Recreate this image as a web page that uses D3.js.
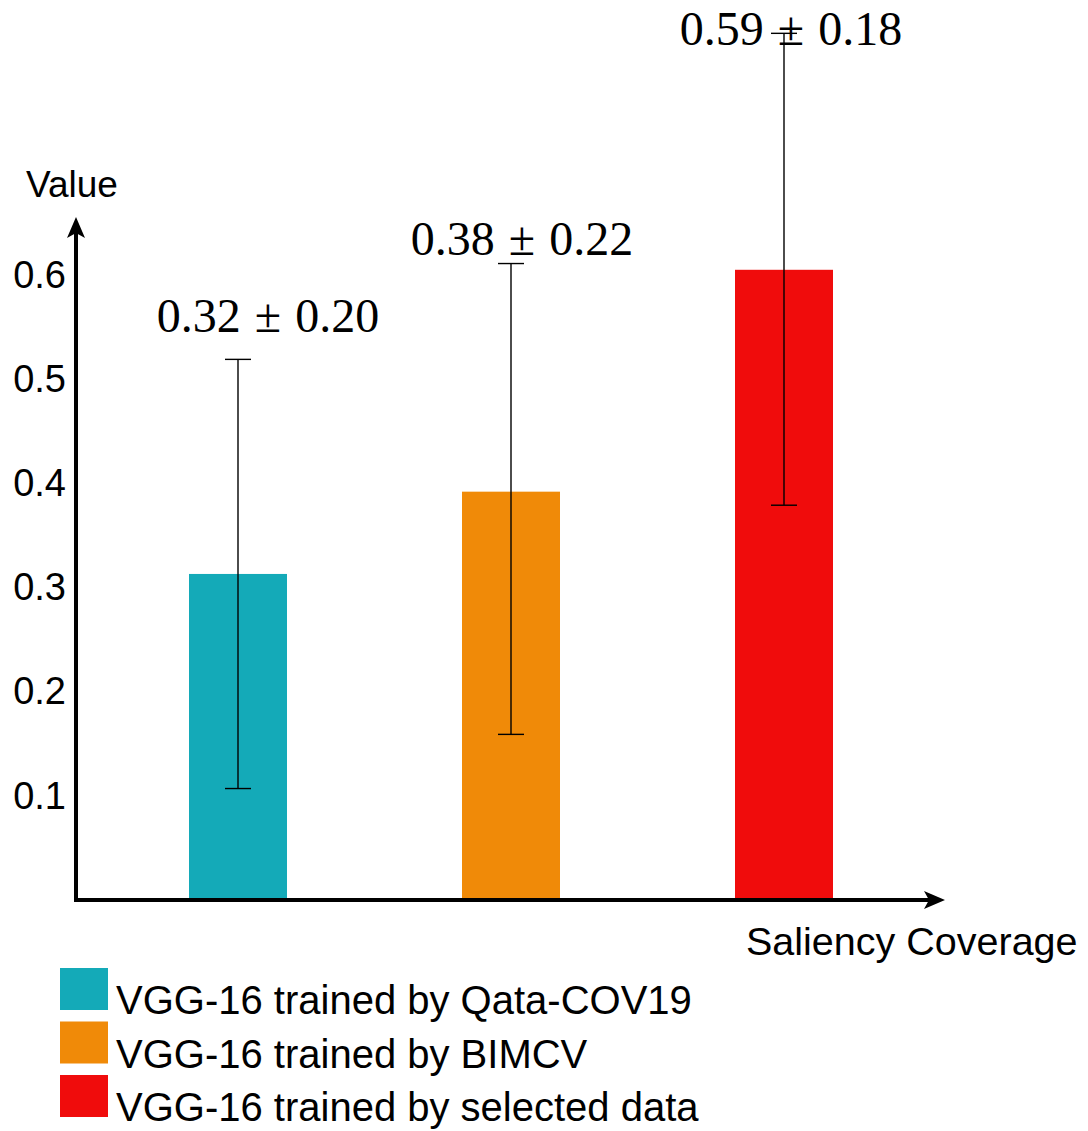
<!DOCTYPE html>
<html lang="en">
<head>
    <meta charset="UTF-8">
    <title>Saliency Coverage</title>
    <script type="text/javascript" src="https://cdn.jsdelivr.net/npm/d3@7/dist/d3.min.js"></script>
    <style>
        body { margin: 0; background: #fff; }
    </style>
</head>
<body>
<script type="text/javascript">
    const width = 1088, height = 1131;

    // data
    const models = ['VGG-16 trained by Qata-COV19', 'VGG-16 trained by BIMCV', 'VGG-16 trained by selected data'];
    const barValues = [0.313, 0.392, 0.605];
    const errLow = [0.107, 0.159, 0.379];
    const errHigh = [0.519, 0.611, 0.832];
    const means = ['0.32', '0.38', '0.59'];
    const stds = ['0.20', '0.22', '0.18'];
    const ticks = [0.1, 0.2, 0.3, 0.4, 0.5, 0.6];
    const colors = ['#14aab8', '#f08a08', '#f00c0c'];

    // hand placement of the value labels (dx, dy from the top of the error bar)
    const labelShift = [[30, -27], [11, -9], [7, 12]];

    const sans = '"Liberation Sans", Arial, Helvetica, sans-serif';

    const svg = d3.select('body').append('svg')
        .attr('width', width)
        .attr('height', height);

    const x = d3.scalePoint()
        .domain(models)
        .range([238, 784]);

    const y = d3.scaleLinear()
        .domain([0, 0.6])
        .range([900, 275]);

    const barWidth = 98;
    const axisX = 76, axisY = 900;

    // bars
    svg.append('g')
        .selectAll('rect')
        .data(models)
        .enter()
        .append('rect')
        .attr('x', d => x(d) - barWidth / 2)
        .attr('y', (d, i) => y(barValues[i]))
        .attr('width', barWidth)
        .attr('height', (d, i) => y(0) - y(barValues[i]))
        .style('fill', (d, i) => colors[i]);

    // error bars
    const err = svg.append('g')
        .selectAll('g')
        .data(models)
        .enter()
        .append('g')
        .style('stroke', '#000')
        .style('stroke-width', 1.4);
    err.append('line')
        .attr('x1', d => x(d)).attr('x2', d => x(d))
        .attr('y1', (d, i) => y(errLow[i]))
        .attr('y2', (d, i) => y(errHigh[i]));
    err.append('line')
        .attr('x1', d => x(d) - 13).attr('x2', d => x(d) + 13)
        .attr('y1', (d, i) => y(errLow[i])).attr('y2', (d, i) => y(errLow[i]));
    err.append('line')
        .attr('x1', d => x(d) - 13).attr('x2', d => x(d) + 13)
        .attr('y1', (d, i) => y(errHigh[i])).attr('y2', (d, i) => y(errHigh[i]));

    // mean ± std labels
    svg.append('g')
        .selectAll('text')
        .data(models)
        .enter()
        .append('text')
        .attr('x', (d, i) => x(d) + labelShift[i][0])
        .attr('y', (d, i) => y(errHigh[i]) + labelShift[i][1])
        .attr('text-anchor', 'middle')
        .style('font-family', '"Liberation Serif", "DejaVu Serif", serif')
        .style('font-size', '48px')
        .style('word-spacing', '2px')
        .text((d, i) => means[i] + ' ± ' + stds[i]);

    // y tick labels
    const yAxis = svg.append('g')
        .attr('transform', 'translate(' + axisX + ',0)')
        .call(d3.axisLeft(y).tickValues(ticks).tickSize(0).tickPadding(10).tickFormat(d3.format('.1f')));
    yAxis.select('.domain').remove();
    yAxis.selectAll('text')
        .style('font-family', sans)
        .style('font-size', '38px')
        .style('fill', '#000');

    // axis arrows
    const axes = svg.append('g');
    axes.append('line')
        .attr('x1', axisX).attr('x2', axisX)
        .attr('y1', axisY + 2).attr('y2', 232)
        .style('stroke', '#000').style('stroke-width', 4);
    axes.append('path')
        .attr('d', 'M' + axisX + ',217 L' + (axisX + 9) + ',238 L' + axisX + ',233 L' + (axisX - 9) + ',238 Z')
        .style('fill', '#000');
    axes.append('line')
        .attr('x1', axisX - 2).attr('x2', 930)
        .attr('y1', axisY).attr('y2', axisY)
        .style('stroke', '#000').style('stroke-width', 4);
    axes.append('path')
        .attr('d', 'M945,' + axisY + ' L924,' + (axisY - 9) + ' L929,' + axisY + ' L924,' + (axisY + 9) + ' Z')
        .style('fill', '#000');

    function sansText(sel, size, tx, ty, str) {
        sel.append('text')
            .attr('x', tx)
            .attr('y', ty)
            .style('font-family', sans)
            .style('font-size', size + 'px')
            .style('fill', '#000')
            .text(str);
    }

    // axis titles
    sansText(svg, 37, 26, 197, 'Value');
    sansText(svg, 39.5, 746, 955, 'Saliency Coverage');

    // legend
    const legend = svg.append('g')
        .selectAll('g')
        .data(models)
        .enter()
        .append('g')
        .attr('transform', (d, i) => 'translate(60,' + (968 + i * 53.5) + ')');
    legend.append('rect')
        .attr('width', 48)
        .attr('height', 42)
        .style('fill', (d, i) => colors[i]);
    legend.each(function (d) {
        sansText(d3.select(this), 40, 56, 46, d);
    });
</script>
</body>
</html>
